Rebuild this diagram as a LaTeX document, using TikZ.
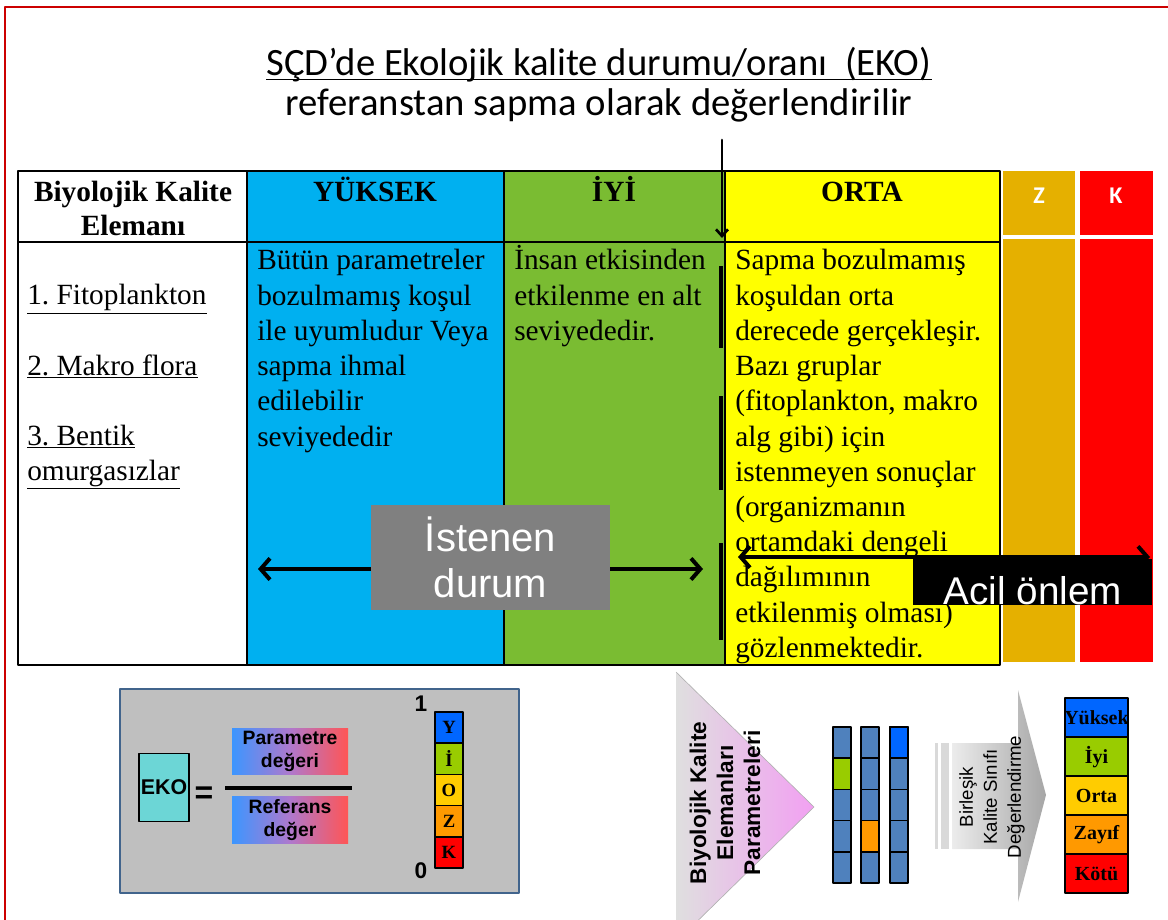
\documentclass[tikz,border=0pt]{standalone}
\usepackage{fontspec}
\setmainfont{Liberation Serif}
\setsansfont{Liberation Sans}
\newfontfamily\calibri{Carlito}
\usepackage{tikz}
\usetikzlibrary{arrows.meta}
\frenchspacing

\definecolor{cerceve}{RGB}{204,0,0}
\definecolor{yuksekmavi}{RGB}{0,176,240}
\definecolor{iyiyesil}{RGB}{122,188,50}
\definecolor{ortasari}{RGB}{255,255,0}
\definecolor{zayifsari}{RGB}{229,176,0}
\definecolor{kotukirmizi}{RGB}{255,0,0}
\definecolor{kutugri}{RGB}{128,128,128}
\definecolor{panelgri}{RGB}{191,191,191}
\definecolor{panelkenar}{RGB}{65,100,140}
\definecolor{ekoturkuaz}{RGB}{108,214,214}
\definecolor{hucremavi}{RGB}{79,129,189}
\definecolor{smavi}{RGB}{0,102,255}
\definecolor{syesil}{RGB}{153,204,0}
\definecolor{ssari}{RGB}{255,204,0}
\definecolor{sturuncu}{RGB}{255,153,0}
\definecolor{skirmizi}{RGB}{255,0,0}
\definecolor{gradmavi}{RGB}{60,150,255}
\definecolor{gradmor}{RGB}{175,120,205}
\definecolor{gradkirmizi}{RGB}{255,85,85}
\definecolor{huniuc}{RGB}{242,160,242}

\begin{document}
\begin{tikzpicture}[line cap=round,line join=round,>={Straight Barb[length=7pt,width=16pt]},x=0.75pt,y=-0.75pt,
  tbl/.style={line width=1.1pt,color=black},
  hdr/.style={anchor=base,inner sep=0pt,font=\bfseries\fontsize{22}{26}\selectfont},
  body/.style={anchor=base west,inner sep=0pt,font=\fontsize{22}{26}\selectfont},
  zkhdr/.style={anchor=base,inner sep=0pt,text=white,font=\calibri\bfseries\fontsize{18}{22}\selectfont},
  okbuyuk/.style={->,line width=3pt,line cap=butt},
  gradbox/.style={left color=gradmavi,right color=gradkirmizi,middle color=gradmor,minimum width=87pt,minimum height=35pt,inner sep=0pt,align=center,font=\sffamily\bfseries\fontsize{14.5}{17.5}\selectfont},
  hucre/.style={draw=black,line width=1.1pt}]
\useasboundingbox (0,0) rectangle (1168,920);
\clip (0,0) rectangle (1168,920);

\draw[color=cerceve,line width=2.2pt,line cap=butt] (5,920) -- (5,7) -- (1168,7);

% baslik
\node[anchor=base,inner sep=0pt,font=\calibri\fontsize{29}{34}\selectfont] (baslik1) at (599,76) {SÇD’de Ekolojik kalite durumu/oranı\ \ (EKO)};
\draw[line width=1.4pt,line cap=butt] ([yshift=-2.6pt]baslik1.base west) -- ([yshift=-2.6pt]baslik1.base east);
\node[anchor=base,inner sep=0pt,font=\calibri\fontsize{29}{34}\selectfont] (baslik2) at (599,116) {referanstan sapma olarak değerlendirilir};

% tablo
\fill[yuksekmavi] (247,171) rectangle (504,665);
\fill[iyiyesil] (504,171) rectangle (725,665);
\fill[ortasari] (725,171) rectangle (1000,665);
\draw[tbl] (18,171) rectangle (1000,665);
\draw[tbl] (18,242) -- (1000,242);
\foreach \x in {247,504,725}
\draw[tbl] (\x,171) -- (\x,665);

% Z ve K sutunlari
\foreach \x/\w/\c in {1003/72/zayifsari,1080/73/kotukirmizi}{
\fill[\c] (\x,171) rectangle ++(\w,64);
\fill[\c] (\x,239) rectangle ++(\w,423);
}
\node[zkhdr] (zbas) at (1039,204) {Z};
\node[zkhdr] (kbas) at (1116,204) {K};

\node[hdr] (bke1) at (133,202) {Biyolojik Kalite};
\node[hdr] (bke2) at (133,236) {Elemanı};
\node[hdr] (yuksek) at (375,202) {YÜKSEK};
\node[hdr] (iyi) at (614,202) {İYİ};
\node[hdr] (orta) at (862,202) {ORTA};

\foreach \t/\y [count=\i] in {1. Fitoplankton/305,2. Makro flora/375,3. Bentik/445,omurgasızlar/480}
\node[body] (eleman\i) at (27,\y) {\underline{\t}};
\foreach \t [count=\i from 0] in {Bütün parametreler,bozulmamış koşul,ile uyumludur Veya,sapma ihmal,edilebilir,seviyededir}
\node[body] (yuk\i) at (257,{270+35.2*\i}) {\t};
\foreach \t [count=\i from 0] in {İnsan etkisinden,etkilenme en alt,seviyededir.}
\node[body] (iyi\i) at (514,{270+35.2*\i}) {\t};
\foreach \t [count=\i from 0] in {Sapma bozulmamış,koşuldan orta,derecede gerçekleşir.,Bazı gruplar,{(fitoplankton, makro},alg gibi) için,istenmeyen sonuçlar,{(organizmanın},ortamdaki dengeli,dağılımının,etkilenmiş olması),gözlenmektedir.}
\node[body] (orta\i) at (735,{270+35.2*\i}) {\t};

% sinir cizgisi
\foreach \a/\b in {266/348,396/490,543/640}
\draw[line width=3pt,line cap=butt] (721,\a) -- (721,\b);
\coordinate (okust) at (722,140);
\coordinate (okalt) at (722,238);
\draw[->,line width=2pt,>={Straight Barb[length=5pt,width=9pt]}] (okust) -- (okalt);

% istenen durum
\node[fill=kutugri,minimum width=179pt,minimum height=79pt,inner sep=0pt,align=center,text=white,font=\sffamily\fontsize{30}{34}\selectfont] (istenen) at (490.5,557.5) {İstenen\\durum};
\coordinate (istsol) at (258,569);
\coordinate (istsag) at (703,569);
\draw[okbuyuk] (istenen.west |- istsol) -- (istsol);
\draw[okbuyuk] (istenen.east |- istsag) -- (istsag);

% acil onlem
\coordinate (acilsol) at (738,557);
\coordinate (acilsag) at (1150,557);
\draw[okbuyuk,<->] (acilsol) -- (acilsag);
\node[fill=black,minimum width=179.25pt,minimum height=34.5pt,inner sep=0pt] (acilkutu) at (1032.5,582) {};
\node[anchor=base,inner sep=0pt,text=white,font=\sffamily\fontsize{29}{34}\selectfont] (acil) at (1033,604) {Acil önlem};

% EKO paneli
\draw[fill=panelgri,draw=panelkenar,line width=2.2pt] (120,689) rectangle (519,893);
\node[draw=black,fill=ekoturkuaz,line width=0.8pt,minimum width=37.5pt,minimum height=50.5pt,inner sep=0pt,font=\sffamily\bfseries\fontsize{16}{18}\selectfont] (eko) at (164,787.5) {EKO};
\node[inner sep=0pt,font=\sffamily\bfseries\fontsize{24}{28}\selectfont] (esit) at (204,795) {=};
\draw[line width=2.5pt,line cap=butt] (225,788) -- (352,788);
\node[gradbox] (pay) at (290,751.5) {Parametre\\değeri};
\node[gradbox] (payda) at (290,820) {Referans\\değer};
\node[font=\sffamily\bfseries\fontsize{17}{20}\selectfont] (bir) at (421,704) {1};
\node[font=\sffamily\bfseries\fontsize{17}{20}\selectfont] (sifir) at (421,871) {0};
\foreach \h/\c [count=\i from 0] in {Y/smavi,İ/syesil,O/ssari,Z/sturuncu,K/skirmizi}{
\draw[hucre,fill=\c] (435,{712+31.2*\i}) rectangle ++(28,31.2);
\node[font=\bfseries\fontsize{14}{16}\selectfont] (olcek\i) at (449,{727.6+31.2*\i}) {\h};
}

% parametre hunisi
\shade[left color=gray!25,right color=huniuc] (676,672) -- (814,807) -- (676,942) -- cycle;
\draw[gray!60,line width=0.5pt] (676,672) -- (814,807) -- (676,942);
\node[rotate=90,align=center,font=\sffamily\bfseries\fontsize{17}{20.3}\selectfont] (bkep) at (725,803) {Biyolojik Kalite\\Elemanları\\Parametreleri};

\foreach \x in {833,861,890}
\foreach \i in {0,...,4}
\draw[hucre,fill=hucremavi] (\x,{727+31.2*\i}) rectangle ++(18,31.2);
\draw[hucre,fill=syesil] (833,758.2) rectangle ++(18,31.2);
\draw[hucre,fill=sturuncu] (861,820.6) rectangle ++(18,31.2);
\draw[hucre,fill=smavi] (890,727) rectangle ++(18,31.2);

% birlesik sinif oku
\fill[gray!30] (935,743) rectangle (938,849);
\fill[gray!30] (941,743) rectangle (949,849);
\shade[left color=gray!15,right color=gray!70] (952,743) -- (1018,743) -- (1018,690) -- (1046,795) -- (1018,902) -- (1018,849) -- (952,849) -- cycle;
\node[rotate=90,align=center,font=\sffamily\fontsize{14}{18}\selectfont] (bksd) at (992,797) {Birleşik\\Kalite Sınıfı\\Değerlendirme};

\foreach \s/\c [count=\i from 0] in {Yüksek/smavi,İyi/syesil,Orta/ssari,Zayıf/sturuncu,Kötü/skirmizi}{
\draw[hucre,fill=\c] (1065,{698+39*\i}) rectangle ++(63,39);
\node[font=\bfseries\fontsize{15}{18}\selectfont] (sinif\i) at (1096.5,{718+39*\i}) {\s};
}
\end{tikzpicture}
\end{document}
